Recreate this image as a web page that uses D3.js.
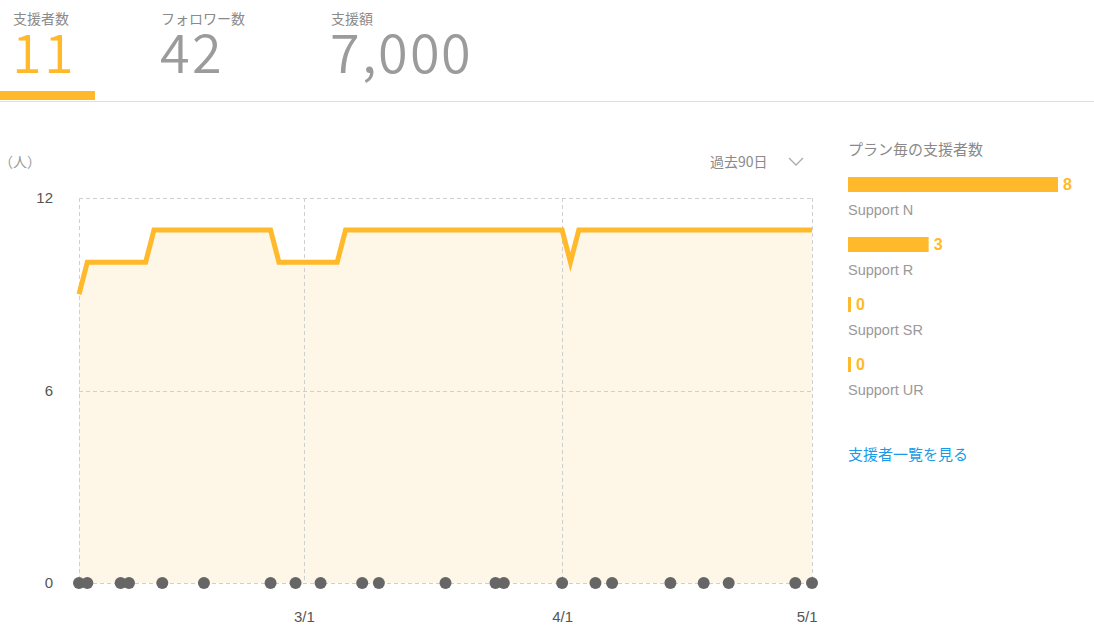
<!DOCTYPE html>
<html><head><meta charset="utf-8">
<script src="https://cdn.jsdelivr.net/npm/d3@7"></script>
<style>
@font-face {
  font-family: "StatNum";
  src: local("Noto Sans CJK JP DemiLight"), local("NotoSansCJKjp-DemiLight"), local("Noto Sans CJK JP Light"), local("NotoSansCJKjp-Light"), local("Noto Sans CJK JP"), local("NotoSansCJKjp-Regular");
  font-weight: 300;
  ascent-override: 78%;
  descent-override: 8%;
}
@font-face {
  font-family: "StatLabel";
  src: local("Noto Sans CJK JP Regular"), local("NotoSansCJKjp-Regular"), local("Noto Sans CJK JP");
  font-weight: 400;
  ascent-override: 88%;
  descent-override: 12%;
}
html,body{margin:0;padding:0;background:#fff;}
svg{display:block;}
.jp{font-family:"Noto Sans CJK JP","Noto Sans",sans-serif;}
.lat{font-family:"Liberation Sans",Arial,sans-serif;}
.statnum{font-family:"StatNum","Noto Sans CJK JP",sans-serif;}
.statlabel{font-family:"StatLabel","Noto Sans CJK JP",sans-serif;}
</style></head><body>
<svg id="c" width="1094" height="640"></svg>
<script>
// ---- data ----
const statLabels = ["支援者数", "フォロワー数", "支援額"];
const statValues = ["11", "42", "7,000"];
const lineDates = ["2023-02-02","2023-02-03","2023-02-10","2023-02-11","2023-02-25","2023-02-26","2023-03-05","2023-03-06","2023-04-01","2023-04-02","2023-04-03","2023-05-01"];
const lineValues = [9,10,10,11,11,10,10,11,11,10,11,11];
const eventDates = ["2023-02-02","2023-02-03","2023-02-07","2023-02-08","2023-02-12","2023-02-17","2023-02-25","2023-02-28","2023-03-03","2023-03-08","2023-03-10","2023-03-18","2023-03-24","2023-03-25","2023-04-01","2023-04-05","2023-04-07","2023-04-14","2023-04-18","2023-04-21","2023-04-29","2023-05-01"];
const yTicks = [0, 6, 12];
const xTickDates = ["2023-03-01","2023-04-01","2023-05-01"];
const planNames = ["Support N", "Support R", "Support SR", "Support UR"];
const planValues = [8, 3, 0, 0];

const ORANGE = "#FFB92A", GRAY_NUM = "#9b9b9b";
const svg = d3.select("#c");
const parse = d3.utcParse("%Y-%m-%d");

// ---- header ----
const statXs = [13, 161, 331];
statLabels.forEach((l, i) => {
  svg.append("text").attr("class","statlabel").attr("x", statXs[i]).attr("y", 24)
    .attr("font-size", 14).attr("fill", "#8a8a8a").text(l);
  svg.append("text").attr("class","statnum").attr("x", statXs[i] - 1).attr("y", 73)
    .attr("font-size", 54).attr("font-weight", 300).attr("letter-spacing", 1.6)
    .attr("fill", i === 0 ? ORANGE : GRAY_NUM).text(statValues[i]);
});
svg.append("rect").attr("x", 0).attr("y", 91).attr("width", 95).attr("height", 9).attr("fill", ORANGE);
svg.append("line").attr("x1", 0).attr("x2", 1094).attr("y1", 101.5).attr("y2", 101.5)
  .attr("stroke", "#dde1e6").attr("stroke-width", 1);

// ---- chart ----
const x = d3.scaleUtc().domain([parse("2023-02-02"), parse("2023-05-01")]).range([79, 812]);
const y = d3.scaleLinear().domain([0, 12]).range([583, 198]);

svg.append("text").attr("class","jp").attr("x", -1).attr("y", 167).attr("font-size", 14)
  .attr("fill", "#999").text("（人）");
svg.append("text").attr("class","jp").attr("x", 710).attr("y", 167).attr("font-size", 14)
  .attr("fill", "#8a8a8a").text("過去90日");
svg.append("path").attr("d", "M789,158 L796,165 L803,158").attr("fill", "none")
  .attr("stroke", "#aaa").attr("stroke-width", 1.3);

const pts = lineDates.map((d, i) => ({ date: parse(d), v: lineValues[i] }));

// area
svg.append("path").datum(pts)
  .attr("d", d3.area().x(d => x(d.date)).y0(y(0)).y1(d => y(d.v)))
  .attr("fill", "#fef6e7");

// grid
const grid = svg.append("g").attr("stroke", "#cfcfcf").attr("stroke-dasharray", "4,3").attr("stroke-width", 1);
yTicks.forEach(t => grid.append("line").attr("x1", 79).attr("x2", 812)
  .attr("y1", Math.round(y(t)) + 0.5).attr("y2", Math.round(y(t)) + 0.5));
[parse("2023-02-02"), ...xTickDates.map(parse)].forEach(d => grid.append("line")
  .attr("x1", Math.round(x(d)) + 0.5).attr("x2", Math.round(x(d)) + 0.5).attr("y1", y(12)).attr("y2", y(0)));

// line
svg.append("path").datum(pts)
  .attr("d", d3.line().x(d => x(d.date)).y(d => y(d.v)))
  .attr("fill", "none").attr("stroke", ORANGE).attr("stroke-width", 5)
  .attr("stroke-linejoin", "miter");

// y axis
const yAxis = svg.append("g").attr("transform", "translate(53,0)")
  .call(d3.axisLeft(y).tickValues(yTicks).tickSize(0).tickPadding(0));
yAxis.select(".domain").remove();
yAxis.selectAll("text").attr("class","lat").attr("font-size", 15).attr("fill", "#555");

// x axis
const xAxis = svg.append("g").attr("transform", "translate(0,608)")
  .call(d3.axisBottom(x).tickValues(xTickDates.map(parse)).tickFormat(d3.utcFormat("%-m/%-d")).tickSize(0).tickPadding(0));
xAxis.select(".domain").remove();
xAxis.selectAll("text").attr("class","lat").attr("font-size", 15).attr("fill", "#555").attr("dy", "0.9em");
// last label kept inside the plot's right edge
xAxis.selectAll(".tick:last-of-type text").attr("text-anchor", "end").attr("dx", 5);

// event dots
svg.append("g").selectAll("circle").data(eventDates).join("circle")
  .attr("cx", d => x(parse(d))).attr("cy", y(0)).attr("r", 6).attr("fill", "#666");

// ---- right panel ----
svg.append("text").attr("class","jp").attr("x", 848).attr("y", 155).attr("font-size", 15)
  .attr("fill", "#8a8a8a").text("プラン毎の支援者数");
const bw = d3.scaleLinear().domain([0, d3.max(planValues)]).range([3, 210]);
const rowY = d3.scalePoint().domain(planNames).range([177, 357]);
planNames.forEach((n, i) => {
  const top = rowY(n);
  const w = bw(planValues[i]);
  svg.append("rect").attr("x", 848).attr("y", top).attr("width", w).attr("height", 15).attr("fill", ORANGE);
  svg.append("text").attr("class","lat").attr("x", 848 + w + 5).attr("y", top + 13)
    .attr("font-size", 16).attr("font-weight", 700).attr("fill", ORANGE).text(planValues[i]);
  svg.append("text").attr("class","lat").attr("x", 848).attr("y", top + 38)
    .attr("font-size", 14.5).attr("fill", "#999").text(n);
});
svg.append("text").attr("class","jp").attr("x", 848).attr("y", 460).attr("font-size", 15)
  .attr("fill", "#1a9be8").text("支援者一覧を見る");
</script>
</body></html>
